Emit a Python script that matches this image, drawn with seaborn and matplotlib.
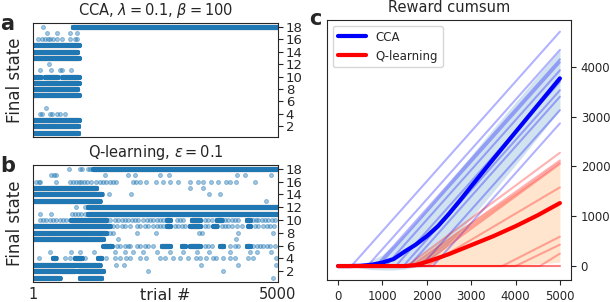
import numpy as np
import pandas as pd
import matplotlib
matplotlib.use("Agg")
import matplotlib.pyplot as plt
import seaborn as sns

sns.set_style("ticks")
plt.rcParams['font.family'] = ['DejaVu Sans']
plt.rcParams['mathtext.fontset'] = 'dejavusans'

# ---------------- Panel a: CCA final states ----------------
a_band_state = [18, 15, 14, 13, 10, 10, 10, 9, 8, 7, 3, 2, 1]
a_band_start = [810, 1, 1, 1, 1, 250, 600, 1, 1, 1, 1, 1, 1]
a_band_end = [5000, 935, 900, 935, 150, 500, 935, 935, 905, 935, 935, 925, 925]
a_pt_state = [18,
              17, 17, 17, 17,
              16, 16, 16, 16, 16, 16, 16, 16, 16, 16, 16,
              12,
              11, 11, 11, 11, 11,
              10, 10,
              5,
              4, 4, 4, 4, 4, 4, 4]
a_pt_trial = [197,
              279, 496, 755, 891,
              109, 177, 245, 313, 347, 415, 483, 585, 755, 857, 891,
              333,
              143, 367, 551, 585, 768,
              190, 540,
              265,
              143, 177, 347, 381, 483, 551, 653]

# ---------------- Panel b: Q-learning final states ----------------
b_band_state = [18, 15, 14, 13, 12, 11,
                10, 10, 10, 10, 10,
                9, 9, 9, 9, 9,
                8, 7,
                6, 6, 6, 6, 6, 6,
                4, 4, 4,
                3, 2, 2, 1, 1]
b_band_start = [1224, 1, 1, 1, 1122, 1120,
                780, 2727, 3237, 3747, 4359,
                1, 2727, 3203, 3679, 4393,
                1, 1,
                1435, 2625, 3033, 3203, 3815, 4359,
                408, 857, 1326,
                1, 1, 920, 1, 952]
b_band_end = [5000, 1290, 1400, 1360, 5000, 5000,
              1500, 2795, 3407, 3849, 4427,
              1564, 2795, 3407, 3747, 4427,
              1496, 1428,
              1605, 2795, 3101, 3407, 3883, 4427,
              462, 993, 1394,
              1360, 850, 1428, 544, 1394]

b_pts = {
    18: [728, 952, 1000, 1122, 1170],
    17: [374, 428, 476, 1462, 1938, 2074, 2584, 2768, 4162, 4332, 4862],
    16: [54, 122, 150, 462, 762, 816, 884, 932, 986, 1034, 1102, 1190, 1292,
         1360, 1428, 1496, 1564, 1632, 1700, 2040, 2108, 2176, 2312, 2516,
         2652, 2788, 2958, 3196, 3366, 3468, 3638, 3774, 3944, 4012, 4148, 4522],
    15: [3196, 3475],
    14: [1551, 1992, 3590, 3808],
    13: [4760],
    12: [877, 1062],
    11: [150, 360, 790, 850, 920, 990, 1060],
    10: [136, 204, 272, 340, 408, 476, 544, 612, 680, 748, 1571, 1673, 1741,
         1809, 1877, 1945, 2013, 2081, 2149, 2251, 2319, 2387, 2455, 2523,
         2591, 2659, 2931, 2999, 3067, 3509, 3577, 3645, 3917, 3985, 4053,
         4121, 4189, 4495, 4549, 4597, 4665, 4733, 4801, 4869, 4937],
    9: [1639, 1707, 1809, 1877, 1979, 2115, 2183, 2285, 2353, 2455, 2523, 2591,
        2659, 2897, 2965, 3033, 3101, 3509, 3577, 3849, 3917, 3985, 4053, 4169,
        4257, 4529, 4597, 4699, 4767, 4835, 4917],
    8: [1571, 1639, 2115, 2509, 3393, 3441, 4189, 4896],
    7: [1734, 4150],
    6: [1707, 1775, 1877, 1945, 1979, 2115, 2183, 2285, 2353, 2455, 3509, 3577,
        3645, 4019, 4121, 4189, 4495, 4563, 4631, 4699, 4767, 4835, 4937],
    5: [340, 768, 952, 1238, 1666, 1870, 2040, 2244, 2523, 2795, 3067, 3339,
        3597, 4019, 4427, 4577, 4860],
    4: [122, 646, 762, 1054, 1496, 1666, 1768, 1904, 1972, 2176, 2312, 2584,
        2686, 2856, 2992, 3162, 3332, 3400, 3536, 3672, 3740, 3876, 4012, 4114,
        4386, 4488, 4964],
    3: [1700, 1850, 3434, 4182, 4950],
    2: [2346, 3876],
    1: [4896],
}

# ---------------- Panel c: reward cumsum ----------------
cca_onset = [300, 660, 850, 910, 1070, 1300, 1470, 1600, 1870, 2135]
cca_final = [4705, 4340, 4150, 4090, 3930, 3700, 3530, 3400, 3130, 2865]
q_onset = [1550, 1650, 1750, 1850, 2000, 3700, 4000, 4550, 5000, 5000]
q_final = [2275, 2120, 2080, 2050, 1580, 590, 430, 250, 0, 0]

grid = [0, 250, 500, 750, 1000, 1250, 1500, 1750, 2000, 2250, 2500, 2750,
        3000, 3500, 4000, 4500, 5000]
cca_mean = [0, 0, 5, 25, 70, 140, 290, 430, 600, 800, 1050, 1320,
            1600, 2150, 2690, 3230, 3768]
cca_hi = [0, 10, 40, 110, 230, 420, 650, 900, 1160, 1420, 1680, 1950,
          2220, 2760, 3290, 3820, 4340]
cca_lo = [0, -10, -40, -70, -80, -80, -60, -20, 40, 220, 450, 700,
          960, 1490, 2030, 2580, 3130]
q_mean = [0, 0, 0, 0, 0, 0, 0, 20, 85, 160, 240, 330,
          420, 600, 800, 1020, 1265]
q_hi = [0, 0, 0, 0, 0, 0, 0, 120, 290, 450, 600, 750,
        900, 1190, 1480, 1770, 2060]
q_lo = [0, 0, 0, 0, 0, 0, 0, 0, 0, 0, 0, 0,
        0, 0, 20, 45, 80]

# ---------------- Figure ----------------
W, H = 610, 302
fig = plt.figure(figsize=(W / 100, H / 100), dpi=100)
axa = fig.add_axes([33 / W, 1 - 137 / H, 245 / W, 114 / H])
axb = fig.add_axes([33 / W, 1 - 282 / H, 245 / W, 117 / H])
axc = fig.add_axes([327 / W, 1 - 280 / H, 244 / W, 260 / H])


def build_states(bs, b0, b1, ps, pt):
    tr, st = [], []
    for s, t0, t1 in zip(bs, b0, b1):
        t = np.arange(t0, t1 + 1)
        tr.append(t)
        st.append(np.full(len(t), s))
    tr.append(np.array(pt))
    st.append(np.array(ps))
    return pd.DataFrame({"trial": np.concatenate(tr), "state": np.concatenate(st)})


dfa = build_states(a_band_state, a_band_start, a_band_end, a_pt_state, a_pt_trial)
bps, bpt = [], []
for s, ts in b_pts.items():
    bps += [s] * len(ts)
    bpt += ts
dfb = build_states(b_band_state, b_band_start, b_band_end, bps, bpt)

for ax, df, title in [(axa, dfa, r"CCA, $\lambda = 0.1$, $\beta = 100$"),
                      (axb, dfb, r"Q-learning, $\varepsilon = 0.1$")]:
    sns.scatterplot(data=df, x="trial", y="state", ax=ax, color="#1f77b4",
                    edgecolor="#1f77b4", s=8, alpha=0.4, linewidth=0.8,
                    legend=False)
    ax.set_xlim(1, 5000)
    ax.set_ylim(0.3, 18.6)
    ax.yaxis.tick_right()
    ax.set_yticks(range(2, 19, 2))
    ax.tick_params(axis="y", labelsize=9.5, length=3.5, pad=2)
    ax.set_ylabel("Final state", fontsize=12)
    ax.yaxis.set_label_position("left")
    ax.yaxis.set_label_coords(-0.035, 0.5)
    ax.set_title(title, fontsize=10.5)
    for sp in ax.spines.values():
        sp.set_visible(True)

axa.set_xticks([])
axa.set_xlabel("")
axb.set_xticks([1, 5000])
axb.tick_params(axis="x", labelsize=10.5, length=0)
axb.set_xlabel("")
axb.text(0.54, -0.055, "trial #", transform=axb.transAxes, ha="center",
         va="top", fontsize=11.5)


def runs_df(onsets, finals):
    rows = []
    for i, (o, f) in enumerate(zip(onsets, finals)):
        rows += [(i, 0, 0), (i, o, 0), (i, 5000, f)]
    return pd.DataFrame(rows, columns=["run", "trial", "reward"])


axc.fill_between(grid, cca_lo, cca_hi, color="#1f77b4", alpha=0.2, lw=0)
axc.fill_between(grid, q_lo, q_hi, color="#ff7f0e", alpha=0.2, lw=0)
sns.lineplot(data=runs_df(cca_onset, cca_final), x="trial", y="reward",
             units="run", estimator=None, color="blue", alpha=0.3, lw=1.5,
             ax=axc, legend=False)
sns.lineplot(data=runs_df(q_onset, q_final), x="trial", y="reward",
             units="run", estimator=None, color="red", alpha=0.3, lw=1.5,
             ax=axc, legend=False)
sns.lineplot(x=grid, y=cca_mean, color="blue", lw=3, ax=axc, label="CCA")
sns.lineplot(x=grid, y=q_mean, color="red", lw=3, ax=axc, label="Q-learning")
axc.set_xlim(-250, 5250)
axc.set_ylim(-280, 4940)
axc.set_xticks(range(0, 5001, 1000))
axc.set_yticks(range(0, 4001, 1000))
axc.yaxis.tick_right()
axc.tick_params(labelsize=8.5, length=3.5)
axc.set_xlabel("")
axc.set_ylabel("")
axc.set_title("Reward cumsum", fontsize=10.5)
axc.legend(loc="upper left", fontsize=8.5, handlelength=2.4)

fig.text(0 / W, 1 - 30 / H, "a", fontsize=15, weight="bold", va="baseline")
fig.text(0 / W, 1 - 172 / H, "b", fontsize=15, weight="bold", va="baseline")
fig.text(309 / W, 1 - 25 / H, "c", fontsize=15, weight="bold", va="baseline")

fig.savefig("out.png", dpi=100)
